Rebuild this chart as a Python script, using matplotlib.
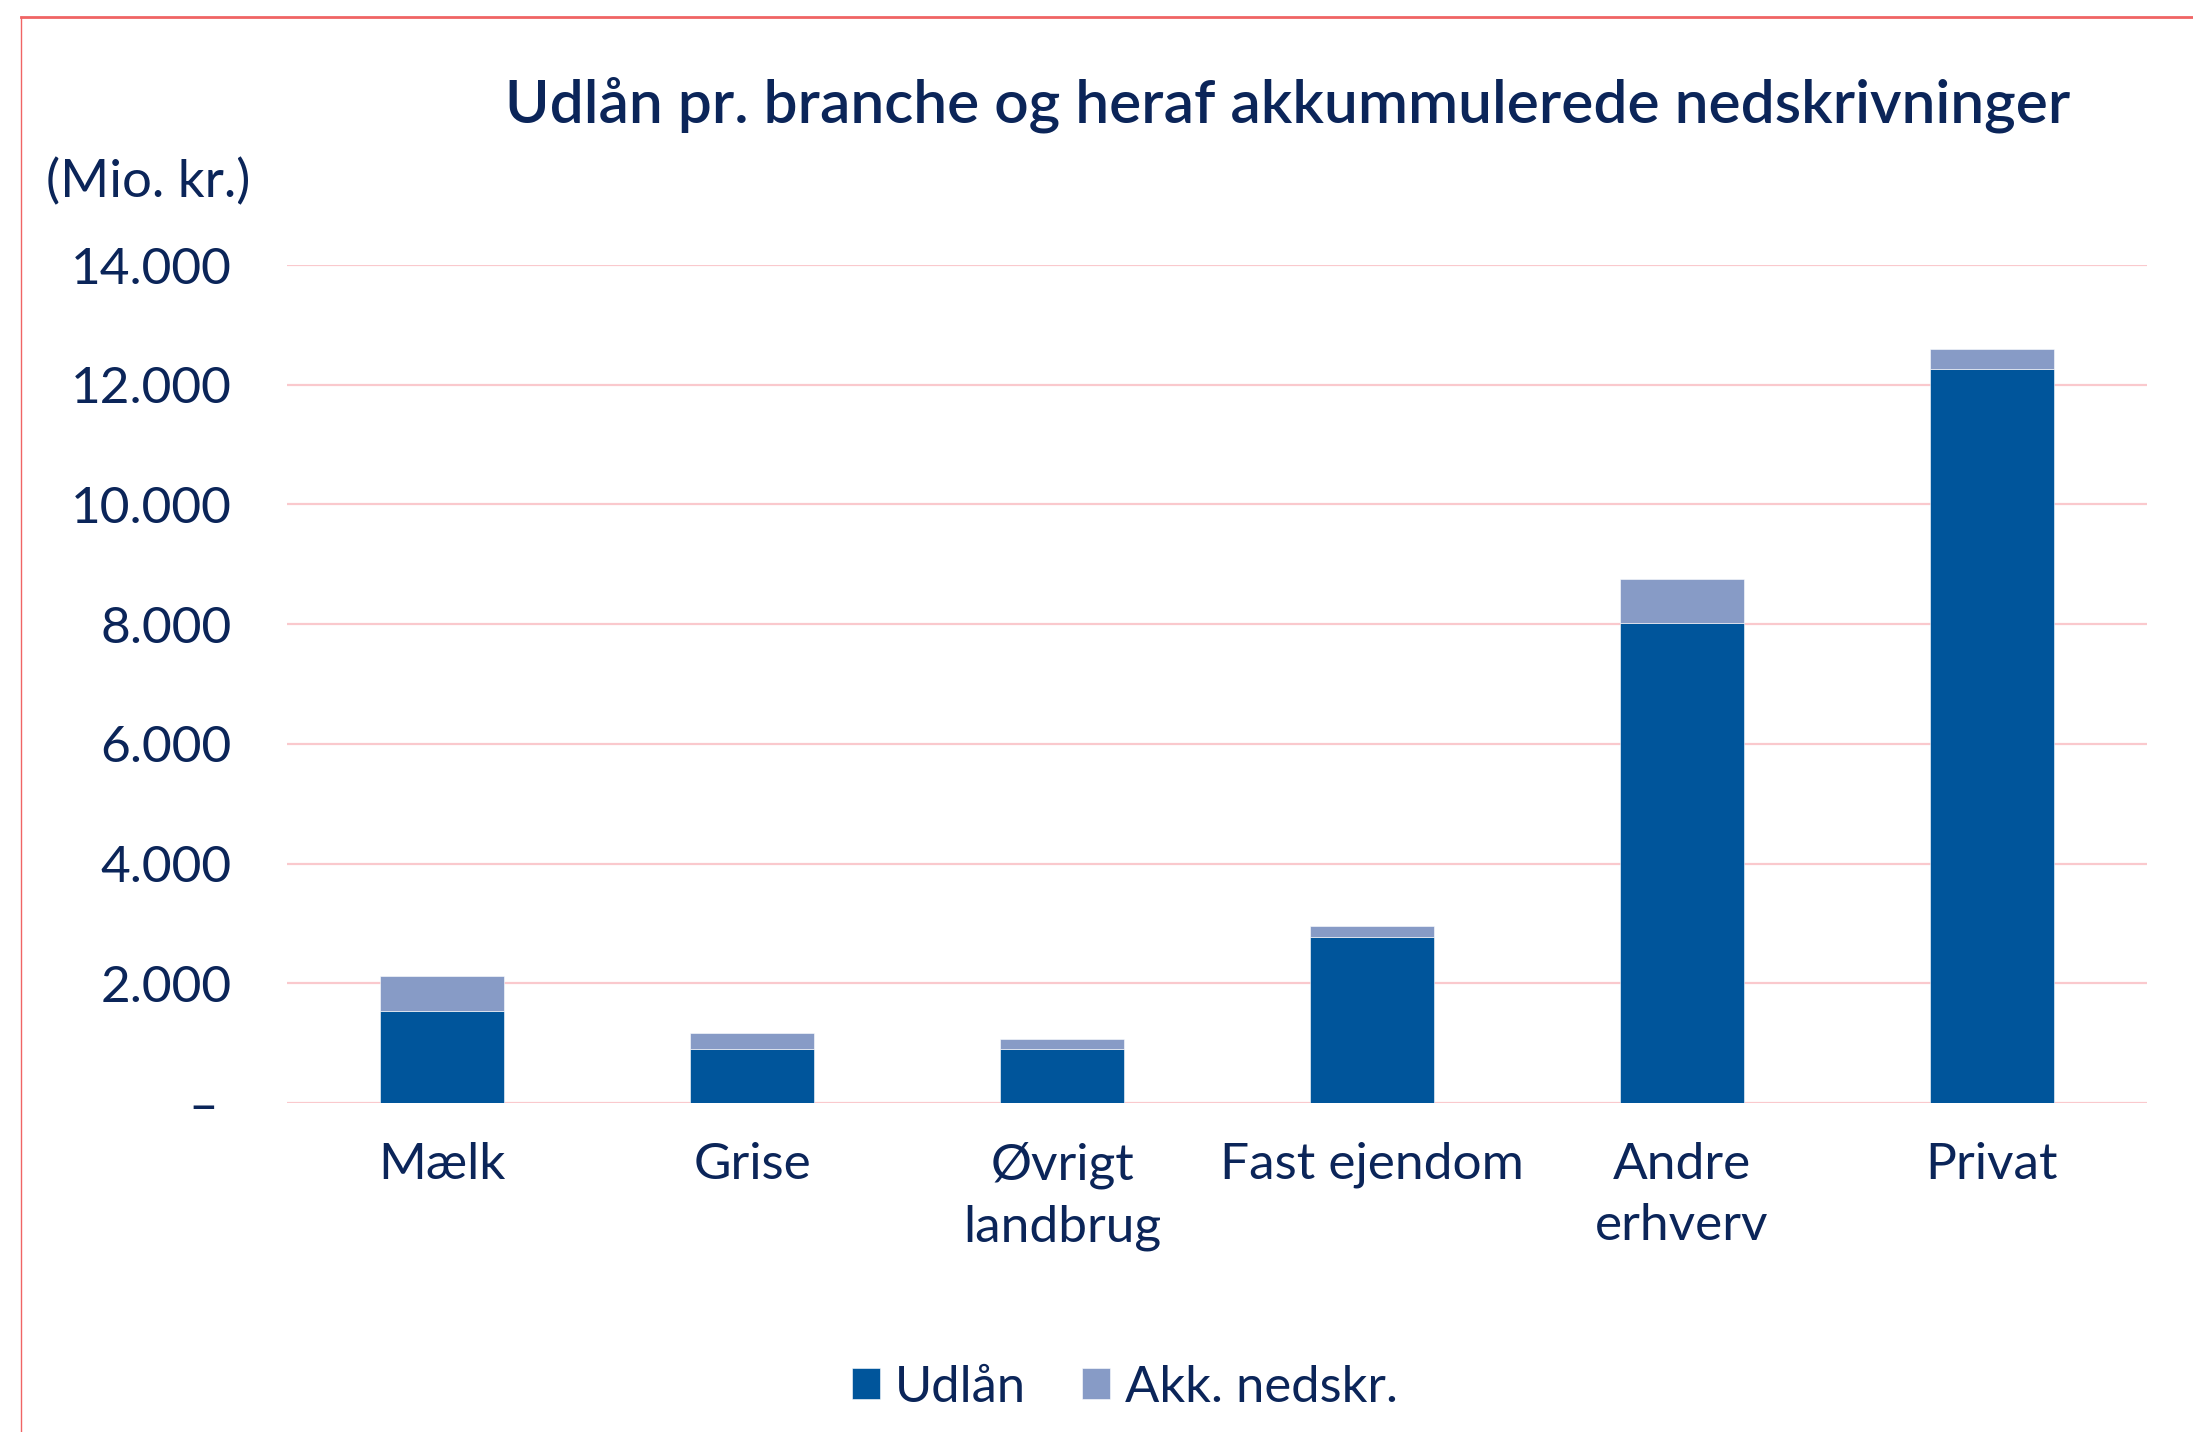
import matplotlib.pyplot as plt
from matplotlib.lines import Line2D

# data (Mio. kr.)
categories = ["Mælk", "Grise", "Øvrigt\nlandbrug", "Fast ejendom", "Andre\nerhverv", "Privat"]
udlaan = [1530, 910, 910, 2770, 8020, 12270]
akk_nedskr = [590, 260, 160, 190, 740, 330]
yticks = [0, 2000, 4000, 6000, 8000, 10000, 12000, 14000]
ytick_labels = ["– ", "2.000", "4.000", "6.000", "8.000", "10.000", "12.000", "14.000"]

navy = "#0B2559"
dark = "#00559B"
light = "#879BC6"
grid = "#FAC9CD"
frame = "#F06464"

plt.rcParams['font.family'] = ['Lato', 'DejaVu Sans']

fig = plt.figure(figsize=(21.93, 14.32), dpi=100)
ax = fig.add_axes([0.1309, 0.2297, 0.979 - 0.1309, 0.5852])

x = range(len(categories))
b1 = ax.bar(x, udlaan, width=0.4, color=dark, edgecolor="white", linewidth=0.4, label="Udlån", zorder=3)
b2 = ax.bar(x, akk_nedskr, width=0.4, bottom=udlaan, color=light, edgecolor="white", linewidth=0.4,
            label="Akk. nedskr.", zorder=3)

ax.set_xlim(-0.5, len(categories) - 0.5)
ax.set_ylim(0, 14000)
ax.set_yticks(yticks)
ax.set_yticklabels(ytick_labels)
ax.set_xticks(list(x))
ax.set_xticklabels(categories, linespacing=1.4)
ax.tick_params(axis="y", length=0, pad=40, labelsize=37, labelcolor=navy)
ax.tick_params(axis="x", length=0, pad=28, labelsize=37, labelcolor=navy)
ax.grid(axis="y", color=grid, linewidth=1.6, zorder=0)
for s in ax.spines.values():
    s.set_visible(False)

fig.text(0.587, 0.927, "Udlån pr. branche og heraf akkummulerede nedskrivninger",
         ha="center", va="center", fontsize=43.5, fontweight="semibold", color=navy)
fig.text(0.021, 0.873, "(Mio. kr.)", ha="left", va="center", fontsize=38, color=navy)

fig.legend(handles=[b1, b2], loc="center", bbox_to_anchor=(0.513, 0.031), ncol=2, frameon=False,
           fontsize=36.5, labelcolor=navy, handlelength=0.55, handleheight=0.55,
           handletextpad=0.3, columnspacing=1.1)

# red frame (top and left)
fig.add_artist(Line2D([0.0096, 1.0], [0.988, 0.988], color=frame, linewidth=2, transform=fig.transFigure))
fig.add_artist(Line2D([0.0096, 0.0096], [0.0, 0.988], color=frame, linewidth=1, transform=fig.transFigure))

fig.savefig("out.png", dpi=100)
